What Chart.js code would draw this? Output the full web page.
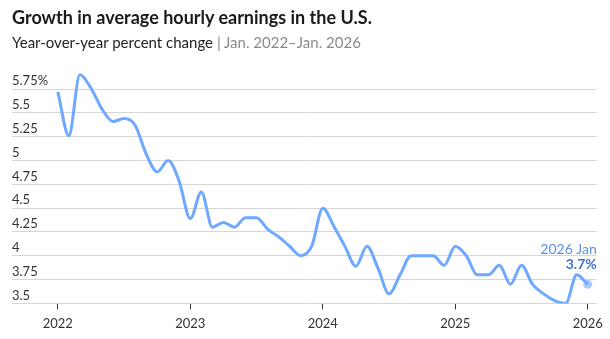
<!DOCTYPE html>
<html>
<head>
<meta charset="utf-8">
<script src="https://cdn.jsdelivr.net/npm/chart.js@4.4.1/dist/chart.umd.min.js"></script>
<style>
    html, body { margin: 0; padding: 0; background: #fff; }
    body { width: 610px; height: 339px; position: relative; overflow: hidden; font-family: Lato, 'Open Sans', sans-serif; }
    .wrap { position: absolute; left: 0; top: 0; width: 610px; height: 339px; }
    .title { position: absolute; left: 12px; top: 6px; font-size: 18px; font-weight: 700; color: #1a1a1a; white-space: nowrap; }
    .subtitle { position: absolute; left: 12px; top: 33px; font-size: 15px; color: #222; white-space: nowrap; }
    .subtitle span { color: #8a8a8a; }
</style>
</head>
<body>
<div class="wrap"><canvas id="chart" width="610" height="339"></canvas></div>
<div class="title">Growth in average hourly earnings in the U.S.</div>
<div class="subtitle">Year-over-year percent change <span>| Jan. 2022–Jan. 2026</span></div>

<script>
// monthly YoY % change, Jan 2022 .. Jan 2026
const earnings = [
    5.72, 5.26, 5.9, 5.76, 5.54, 5.41, 5.44, 5.37, 5.07, 4.88, 5.0, 4.78,   // 2022
    4.39, 4.67, 4.3, 4.35, 4.3, 4.4, 4.4, 4.28, 4.2, 4.1, 4.0, 4.1,         // 2023
    4.5, 4.31, 4.1, 3.89, 4.1, 3.87, 3.6, 3.8, 4.0, 4.0, 4.0, 3.9,          // 2024
    4.1, 4.0, 3.8, 3.8, 3.9, 3.7, 3.9, 3.7, 3.6, 3.53, 3.5, 3.8,            // 2025
    3.7                                                                      // 2026
];
const yearLabels = ['2022', '2023', '2024', '2025', '2026'];
const yearTicks = [0, 12, 24, 36, 48];
const yTickValues = [3.5, 3.75, 4, 4.25, 4.5, 4.75, 5, 5.25, 5.5, 5.75];
const yTickLabels = ['3.5', '3.75', '4', '4.25', '4.5', '4.75', '5', '5.25', '5.5', '5.75%'];
const lastLabel = '2026 Jan';

const FONT = "Lato, 'Open Sans', sans-serif";
const LINE = '#6ea8ff';
const last = earnings.length - 1;

// ── end-of-line annotation ───────────────────────────────────────────────────
const endLabel = {
    id: 'endLabel',
    afterDatasetsDraw(chart) {
        const pt = chart.getDatasetMeta(0).data[last];
        const c = chart.ctx;
        c.save();
        c.textAlign = 'right';
        c.textBaseline = 'middle';
        c.font = `14px ${FONT}`;
        c.fillStyle = '#5b8fe6';
        c.fillText(lastLabel, pt.x + 9, pt.y - 35);
        c.font = `bold 14px ${FONT}`;
        c.fillStyle = '#3d72cc';
        c.fillText(earnings[last].toFixed(1) + '%', pt.x + 9, pt.y - 20);
        c.restore();
    }
};

new Chart(document.getElementById('chart'), {
    type: 'line',
    data: {
        datasets: [{
            data: earnings.map((v, i) => ({ x: i, y: v })),
            borderColor: LINE,
            borderWidth: 3,
            cubicInterpolationMode: 'monotone',
            fill: false,
            pointRadius: c => c.dataIndex === last ? 4.5 : 0,
            pointBackgroundColor: 'rgba(110,168,255,0.6)',
            pointBorderWidth: 0
        }]
    },
    options: {
        responsive: false,
        animation: false,
        layout: { padding: { left: 12, right: 12, top: 70, bottom: 0 } },
        plugins: { legend: { display: false }, tooltip: { enabled: false } },
        scales: {
            x: {
                type: 'linear',
                min: -4.15,
                max: 48.8,
                afterBuildTicks: s => { s.ticks = yearTicks.map(v => ({ value: v })); },
                ticks: {
                    callback: (v, i) => yearLabels[i],
                    color: '#333',
                    font: { family: FONT, size: 13 },
                    padding: 7,
                    maxRotation: 0,
                    autoSkip: false
                },
                grid: { drawOnChartArea: false, drawTicks: true, tickLength: 6, color: '#333' },
                border: { display: false }
            },
            y: {
                min: 3.5,
                max: 5.95,
                afterBuildTicks: s => { s.ticks = yTickValues.map(v => ({ value: v })); },
                ticks: {
                    mirror: true,
                    labelOffset: -8,
                    padding: 0,
                    callback: (v, i) => yTickLabels[i],
                    color: '#333',
                    font: { family: FONT, size: 13 }
                },
                grid: { color: '#d6d6d6', drawTicks: false },
                border: { display: false }
            }
        }
    },
    plugins: [endLabel]
});
</script>
</body>
</html>
